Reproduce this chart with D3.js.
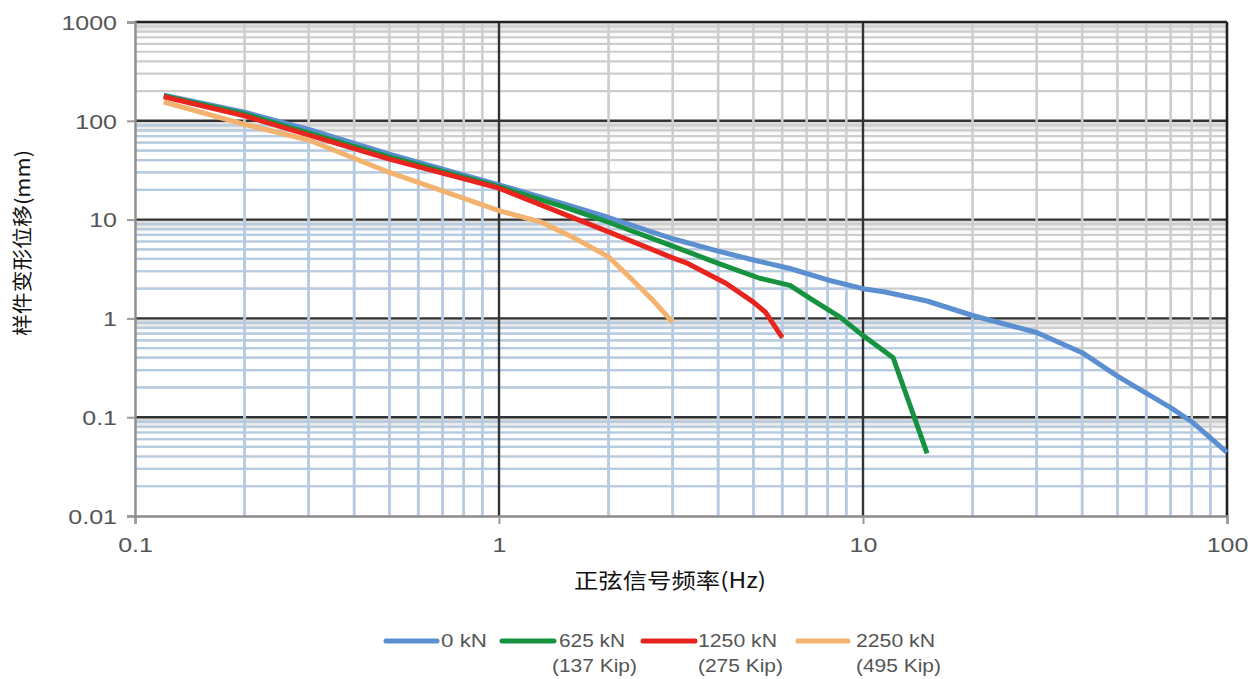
<!DOCTYPE html>
<html>
<head>
<meta charset="utf-8">
<script src="https://cdn.jsdelivr.net/npm/d3@7"></script>
<style>
  html, body { margin: 0; padding: 0; background: #fff; }
  svg { display: block; }
</style>
</head>
<body>
<svg id="chart" width="1248" height="679"></svg>
<script>
// ---------- data ----------
const seriesNames = ["0 kN", "625 kN", "1250 kN", "2250 kN"];
const seriesSub = ["", "(137 Kip)", "(275 Kip)", "(495 Kip)"];
const seriesColors = ["#5b8fcf", "#17933f", "#e8241e", "#f3b26e"];

const freq0 = [0.12, 0.2, 0.3, 0.5, 1, 1.5, 2, 3, 4, 5, 6.3, 8, 10, 11.5, 15, 20, 30, 40, 50, 70, 80, 100];
const disp0 = [182, 122, 82, 46, 22.5, 14.5, 10.5, 6.4, 4.8, 3.9, 3.2, 2.45, 2.0, 1.85, 1.5, 1.07, 0.72, 0.45, 0.26, 0.125, 0.09, 0.044];

const freq625 = [0.12, 0.2, 0.5, 1, 1.5, 2, 3, 4, 5.2, 6.3, 7.3, 8.65, 10, 12.1, 15];
const disp625 = [178, 117, 43, 21.5, 13.5, 9.4, 5.4, 3.6, 2.55, 2.16, 1.52, 1.03, 0.67, 0.40, 0.043];

const freq1250 = [0.12, 0.2, 0.5, 1, 2, 3, 3.3, 4.2, 5, 5.4, 6];
const disp1250 = [175, 112, 41, 20.8, 7.5, 4.1, 3.6, 2.27, 1.46, 1.15, 0.64];

const freq2250 = [0.12, 0.2, 0.3, 0.5, 1, 1.3, 1.6, 2, 2.33, 2.65, 3];
const disp2250 = [155, 92, 64, 30, 12.3, 9.5, 6.6, 4.2, 2.43, 1.52, 0.91];

const xTicks = [0.1, 1, 10, 100];
const xTickLabels = ["0.1", "1", "10", "100"];
const yTicks = [0.01, 0.1, 1, 10, 100, 1000];
const yTickLabels = ["0.01", "0.1", "1", "10", "100", "1000"];

const xTitle = "正弦信号频率(Hz)";
const yTitle = "样件变形位移(mm)";

// ---------- layout ----------
const svg = d3.select("#chart");
const L = 135, T = 22, R = 1227, B = 516;

const x = d3.scaleLog().domain([0.1, 100]).range([L, R]);
const y = d3.scaleLog().domain([0.01, 1000]).range([B, T]);

const series = [
  freq0.map((f, i) => [f, disp0[i]]),
  freq625.map((f, i) => [f, disp625[i]]),
  freq1250.map((f, i) => [f, disp1250[i]]),
  freq2250.map((f, i) => [f, disp2250[i]])
];

const minors = [];
for (let e = -2; e <= 2; e++) for (let k = 2; k <= 9; k++) minors.push(k * Math.pow(10, e));
const xMinors = minors.filter(v => v > 0.1 && v < 100);
const yMinors = minors.filter(v => v > 0.01 && v < 1000);

const defs = svg.append("defs");
const clipPts = [[0.1, 100]].concat(series[0].map(d => [d[0], Math.min(d[1], 100)]));
defs.append("clipPath").attr("id", "blueClip")
  .append("path")
  .attr("d", d3.area().x(d => x(d[0])).y0(B).y1(d => y(d[1]))(clipPts));
defs.append("clipPath").attr("id", "plotClip")
  .append("rect").attr("x", L).attr("y", T).attr("width", R - L).attr("height", B - T);

const grad = defs.append("linearGradient").attr("id", "band").attr("x1", 0).attr("y1", 0).attr("x2", 0).attr("y2", 1);
grad.append("stop").attr("offset", "0%").attr("stop-color", "#000").attr("stop-opacity", 0.16);
grad.append("stop").attr("offset", "100%").attr("stop-color", "#000").attr("stop-opacity", 0);

const grid = svg.append("g").attr("clip-path", "url(#plotClip)");

grid.selectAll("rect.band").data(yTicks.filter(v => v > 0.01))
  .join("rect").attr("class", "band")
  .attr("x", L).attr("width", R - L)
  .attr("y", d => y(d)).attr("height", 14)
  .attr("fill", "url(#band)");

function hMinor(g, color) {
  g.selectAll("line").data(yMinors).join("line")
    .attr("x1", L).attr("x2", R)
    .attr("y1", d => y(d)).attr("y2", d => y(d))
    .attr("stroke", color).attr("stroke-width", 2.2);
}
function vMinor(g, color) {
  g.selectAll("line").data(xMinors).join("line")
    .attr("y1", T).attr("y2", B)
    .attr("x1", d => x(d)).attr("x2", d => x(d))
    .attr("stroke", color).attr("stroke-width", 2.6);
}

hMinor(grid.append("g"), "#cdcdcd");
hMinor(grid.append("g").attr("clip-path", "url(#blueClip)"), "#b5cbe2");

grid.append("g").selectAll("line").data(yTicks.filter(v => v > 0.01 && v < 1000)).join("line")
  .attr("x1", L).attr("x2", R)
  .attr("y1", d => y(d)).attr("y2", d => y(d))
  .attr("stroke", "#333").attr("stroke-width", 2.4);

vMinor(grid.append("g"), "#cdcdcd");
vMinor(grid.append("g").attr("clip-path", "url(#blueClip)"), "#b5cbe2");

grid.append("g").selectAll("line").data(xTicks.filter(v => v > 0.1 && v < 100)).join("line")
  .attr("y1", T).attr("y2", B)
  .attr("x1", d => x(d)).attr("x2", d => x(d))
  .attr("stroke", "#333").attr("stroke-width", 2.4);

svg.append("line").attr("x1", L).attr("x2", R).attr("y1", T).attr("y2", T).attr("stroke", "#222").attr("stroke-width", 2.6);
svg.append("line").attr("x1", R).attr("x2", R).attr("y1", T).attr("y2", B).attr("stroke", "#222").attr("stroke-width", 2.6);

// axes
const xAxis = d3.axisBottom(x).tickValues(xTicks).tickFormat((d, i) => xTickLabels[i]).tickSize(8).tickPadding(10);
const yAxis = d3.axisLeft(y).tickValues(yTicks).tickFormat((d, i) => yTickLabels[i]).tickSize(8).tickPadding(10);

const gx = svg.append("g").attr("transform", `translate(0,${B})`).call(xAxis);
const gy = svg.append("g").attr("transform", `translate(${L},0)`).call(yAxis);
function labelWidth(s) {
  let w = 0;
  for (const c of s) w += (c === ".") ? 0.278 : 0.556;
  return w * 25;
}
[gx, gy].forEach(g => {
  g.select(".domain").attr("stroke", "#8c8c8c").attr("stroke-width", 2.4);
  g.selectAll(".tick line").attr("stroke", "#999").attr("stroke-width", 2);
  g.selectAll(".tick text").attr("fill", "#555")
    .style("font-family", "'Liberation Sans', Arial, sans-serif").style("font-size", "21px")
    .attr("textLength", function () { return labelWidth(this.textContent); })
    .attr("lengthAdjust", "spacingAndGlyphs");
});
gx.selectAll(".tick text").attr("dy", "0.85em");
gy.selectAll(".tick text").attr("dy", "0.35em");

// lines
const line = d3.line().x(d => x(d[0])).y(d => y(d[1])).curve(d3.curveLinear);
svg.append("g").selectAll("path").data(series).join("path")
  .attr("d", line)
  .attr("fill", "none")
  .attr("stroke", (d, i) => seriesColors[i])
  .attr("stroke-width", 5)
  .attr("stroke-linejoin", "round");

// titles
svg.append("text")
  .attr("x", 670).attr("y", 588)
  .attr("text-anchor", "middle")
  .attr("textLength", 192).attr("lengthAdjust", "spacingAndGlyphs")
  .style("font-family", "'Noto Sans CJK SC', sans-serif").style("font-size", "21px").attr("fill", "#111")
  .text(xTitle);

svg.append("text")
  .attr("transform", "translate(30,243) rotate(-90)")
  .attr("text-anchor", "middle")
  .attr("textLength", 186).attr("lengthAdjust", "spacingAndGlyphs")
  .style("font-family", "'Noto Sans CJK SC', sans-serif").style("font-size", "20px").attr("fill", "#111")
  .text(yTitle);

// legend
const legX1 = [386, 502, 643, 798];
const legX2 = [437, 554, 695, 848];
const legT = [441, 559, 698, 856];
const legTW = [46, 66, 79, 79];
const legS = [0, 552, 698, 856];
const legSW = [0, 85, 85, 85];
const lg = svg.append("g");
seriesNames.forEach((n, i) => {
  lg.append("line")
    .attr("x1", legX1[i]).attr("x2", legX2[i])
    .attr("y1", 641).attr("y2", 641)
    .attr("stroke", seriesColors[i]).attr("stroke-width", 5).attr("stroke-linecap", "round");
  lg.append("text").attr("x", legT[i]).attr("y", 647)
    .attr("textLength", legTW[i]).attr("lengthAdjust", "spacingAndGlyphs")
    .style("font-family", "'Liberation Sans', Arial, sans-serif").style("font-size", "18px").attr("fill", "#555")
    .text(n);
  if (seriesSub[i]) {
    lg.append("text").attr("x", legS[i]).attr("y", 672)
      .attr("textLength", legSW[i]).attr("lengthAdjust", "spacingAndGlyphs")
      .style("font-family", "'Liberation Sans', Arial, sans-serif").style("font-size", "18px").attr("fill", "#555")
      .text(seriesSub[i]);
  }
});
</script>
</body>
</html>
